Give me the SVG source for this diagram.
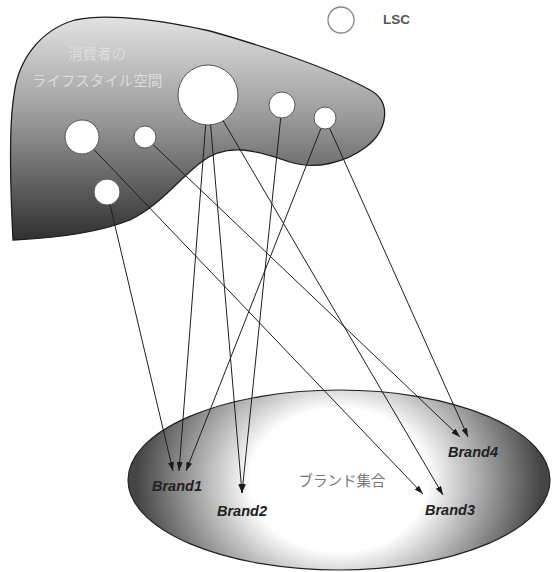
<svg xmlns="http://www.w3.org/2000/svg" width="552" height="572" viewBox="0 0 552 572">
  <defs>
    <linearGradient id="blobGrad" x1="0" y1="18" x2="0" y2="242" gradientUnits="userSpaceOnUse">
      <stop offset="0" stop-color="#e2e2e2"/>
      <stop offset="0.45" stop-color="#999"/>
      <stop offset="1" stop-color="#2e2e2e"/>
    </linearGradient>
    <radialGradient id="setGrad" cx="0.5" cy="0.5" r="0.5" gradientTransform="translate(0.5 0.5) scale(1 1.9) translate(-0.5 -0.5)">
      <stop offset="0" stop-color="#ffffff"/>
      <stop offset="0.42" stop-color="#ffffff"/>
      <stop offset="0.96" stop-color="#454545"/>
    </radialGradient>
    <marker id="arrow" markerUnits="userSpaceOnUse" markerWidth="9" markerHeight="6" viewBox="0 0 9 6" refX="9" refY="3" orient="auto">
      <path d="M0,0 L9,3 L0,6 z" fill="#1a1a1a"/>
    </marker>
    <style>
      .lsc { fill: #fff; stroke: #555; stroke-width: 1; }
      .conn { stroke: #1e1e1e; stroke-width: 1; fill: none; marker-end: url(#arrow); }
      .brand { font-family: "Liberation Sans", Arial, sans-serif; font-weight: bold; font-style: italic; font-size: 14.5px; fill: #222; }
      .jp { font-family: "Noto Sans CJK JP", sans-serif; font-size: 14.5px; }
    </style>
  </defs>

  <g id="lifestyle-space">
    <path d="M13,240 C11,200 8,130 14,95 C18,60 40,30 75,20 C110,12 170,22 210,31 C260,45 330,68 370,90 C392,102 388,130 366,147 C345,163 315,170 290,162 C260,152 228,140 200,163 C175,183 160,205 130,220 C100,232 60,238 13,240 Z" fill="url(#blobGrad)" stroke="#1e1e1e" stroke-width="1.3"/>
    <text class="jp" x="97" y="59" text-anchor="middle" fill="#dcdcdc">消費者の</text>
    <text class="jp" x="97" y="86" text-anchor="middle" fill="#dcdcdc">ライフスタイル空間</text>
  </g>

  <g id="brand-set">
    <ellipse cx="339" cy="480" rx="211" ry="90" fill="url(#setGrad)" stroke="#222" stroke-width="1.2"/>
    <text class="jp" x="342" y="486" text-anchor="middle" fill="#777">ブランド集合</text>
  </g>

  <g id="legend">
    <circle cx="341" cy="20" r="13" fill="#fff" stroke="#888" stroke-width="1.3"/>
    <text x="383" y="24" font-family="Liberation Sans, Arial, sans-serif" font-size="13.5" font-weight="bold" fill="#555">LSC</text>
  </g>

  <g id="connectors">
    <line class="conn" x1="110" y1="204.6" x2="173" y2="471"/>
    <line class="conn" x1="205.7" y1="124.9" x2="179" y2="471"/>
    <line class="conn" x1="321" y1="128.2" x2="186" y2="471"/>
    <line class="conn" x1="210.6" y1="124.9" x2="242" y2="493"/>
    <line class="conn" x1="280.7" y1="117.9" x2="242" y2="493"/>
    <line class="conn" x1="93.7" y1="149.3" x2="423" y2="494"/>
    <line class="conn" x1="223.2" y1="120.9" x2="443" y2="495"/>
    <line class="conn" x1="153" y1="144.6" x2="460" y2="437"/>
    <line class="conn" x1="329.5" y1="128" x2="468" y2="437"/>
  </g>

  <g id="lsc-1"><circle class="lsc" cx="82" cy="137" r="17"/></g>
  <g id="lsc-2"><circle class="lsc" cx="145" cy="137" r="11"/></g>
  <g id="lsc-3"><circle class="lsc" cx="107" cy="192" r="13"/></g>
  <g id="lsc-4"><circle class="lsc" cx="208" cy="95" r="30"/></g>
  <g id="lsc-5"><circle class="lsc" cx="282" cy="105" r="13"/></g>
  <g id="lsc-6"><circle class="lsc" cx="325" cy="118" r="11"/></g>

  <g id="brand1"><text class="brand" x="152" y="491">Brand1</text></g>
  <g id="brand2"><text class="brand" x="217" y="516">Brand2</text></g>
  <g id="brand3"><text class="brand" x="425" y="515">Brand3</text></g>
  <g id="brand4"><text class="brand" x="448" y="457">Brand4</text></g>
</svg>
